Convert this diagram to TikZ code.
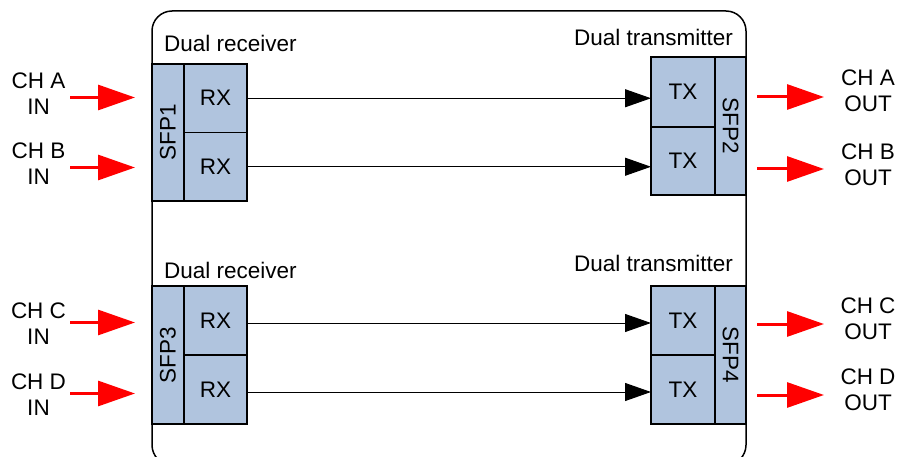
\documentclass[tikz,border=0pt]{standalone}
\usepackage{fontspec}
\setmainfont{Liberation Sans}
\usetikzlibrary{positioning,arrows.meta}
\definecolor{sfpblue}{RGB}{176,196,222}

\tikzset{
  cell/.style={draw, fill=sfpblue, line width=1.5pt, inner sep=0pt, outer sep=0pt},
  sig/.style={line width=1pt, -{Triangle[length=26pt,width=18pt]}},
  chan/.style={red, line width=3pt, -{Triangle[length=37pt,width=25pt]}},
  chlabel/.style={align=center, inner sep=0pt},
  title/.style={inner sep=0pt},
}

\begin{document}
\begin{tikzpicture}[x=1pt,y=-1pt,every node/.style={font=\fontsize{22.5}{26}\selectfont}]
\useasboundingbox (0,0) rectangle (897,457);
\clip (0,0) rectangle (897,457);
% card outline
\draw[line width=1.5pt,rounded corners=20pt] (152,11) rectangle (746,465);
% upper pair
\node[title,anchor=base west] (recvtop) at (164,52) {Dual receiver};
\node[title,anchor=base east] (xmittop) at (733,46) {Dual transmitter};
\node[cell,minimum width=32pt,minimum height=137pt,anchor=north west] (sfp1) at (152,64) {\rotatebox{90}{SFP1}};
\node[cell,minimum width=63pt,minimum height=68.5pt,anchor=north west] (rx1) at (sfp1.north east) {RX};
\node[cell,minimum width=63pt,minimum height=68.5pt,below=0pt of rx1] (rx2) {RX};
\node[cell,minimum width=31pt,minimum height=138pt,anchor=north west] (sfp2) at (715,57) {\rotatebox{-90}{SFP2}};
\node[cell,minimum width=64pt,minimum height=70pt,anchor=north east] (tx1) at (sfp2.north west) {TX};
\node[cell,minimum width=64pt,minimum height=68pt,below=0pt of tx1] (tx2) {TX};
% lower pair
\node[title,anchor=base west] (recvbot) at (164,278) {Dual receiver};
\node[title,anchor=base east] (xmitbot) at (733,272) {Dual transmitter};
\node[cell,minimum width=32pt,minimum height=138pt,anchor=north west] (sfp3) at (152,286) {\rotatebox{90}{SFP3}};
\node[cell,minimum width=63pt,minimum height=69pt,anchor=north west] (rx3) at (sfp3.north east) {RX};
\node[cell,minimum width=63pt,minimum height=69pt,below=0pt of rx3] (rx4) {RX};
\node[cell,minimum width=31pt,minimum height=138pt,anchor=north west] (sfp4) at (715,286) {\rotatebox{-90}{SFP4}};
\node[cell,minimum width=64pt,minimum height=69pt,anchor=north east] (tx3) at (sfp4.north west) {TX};
\node[cell,minimum width=64pt,minimum height=69pt,below=0pt of tx3] (tx4) {TX};
% channel labels
\node[chlabel] (chAin) at (38.5,93.5) {CH A\\IN};
\node[chlabel] (chBin) at (38.5,164) {CH B\\IN};
\node[chlabel] (chCin) at (38.5,323.5) {CH C\\IN};
\node[chlabel] (chDin) at (38.5,395) {CH D\\IN};
\node[chlabel] (chAout) at (868,91) {CH A\\OUT};
\node[chlabel] (chBout) at (868,164.5) {CH B\\OUT};
\node[chlabel] (chCout) at (868,319) {CH C\\OUT};
\node[chlabel] (chDout) at (868,389.5) {CH D\\OUT};
% free ends of the red arrows
\coordinate (inA) at (70,97.5);
\coordinate (inB) at (70,167.5);
\coordinate (inC) at (70,322.5);
\coordinate (inD) at (70,393.5);
\coordinate (outA) at (824,97);
\coordinate (outB) at (824,169);
\coordinate (outC) at (824,324);
\coordinate (outD) at (824,395);
\draw[chan,shorten >=17pt] (inA) -- (inA -| sfp1.west);
\draw[chan,shorten >=17pt] (inB) -- (inB -| sfp1.west);
\draw[chan,shorten >=17pt] (inC) -- (inC -| sfp3.west);
\draw[chan,shorten >=17pt] (inD) -- (inD -| sfp3.west);
\draw[chan,shorten <=11pt] (sfp2.east |- outA) -- (outA);
\draw[chan,shorten <=11pt] (sfp2.east |- outB) -- (outB);
\draw[chan,shorten <=11pt] (sfp4.east |- outC) -- (outC);
\draw[chan,shorten <=11pt] (sfp4.east |- outD) -- (outD);
% rx to tx
\draw[sig] (rx1.east) -- (rx1.east -| tx1.west);
\draw[sig] (rx2.east) -- (rx2.east -| tx2.west);
\draw[sig] ([yshift=-2.5pt]rx3.east) -- ([yshift=-2.5pt]rx3.east -| tx3.west);
\draw[sig] ([yshift=-2.5pt]rx4.east) -- ([yshift=-2.5pt]rx4.east -| tx4.west);
\end{tikzpicture}
\end{document}
